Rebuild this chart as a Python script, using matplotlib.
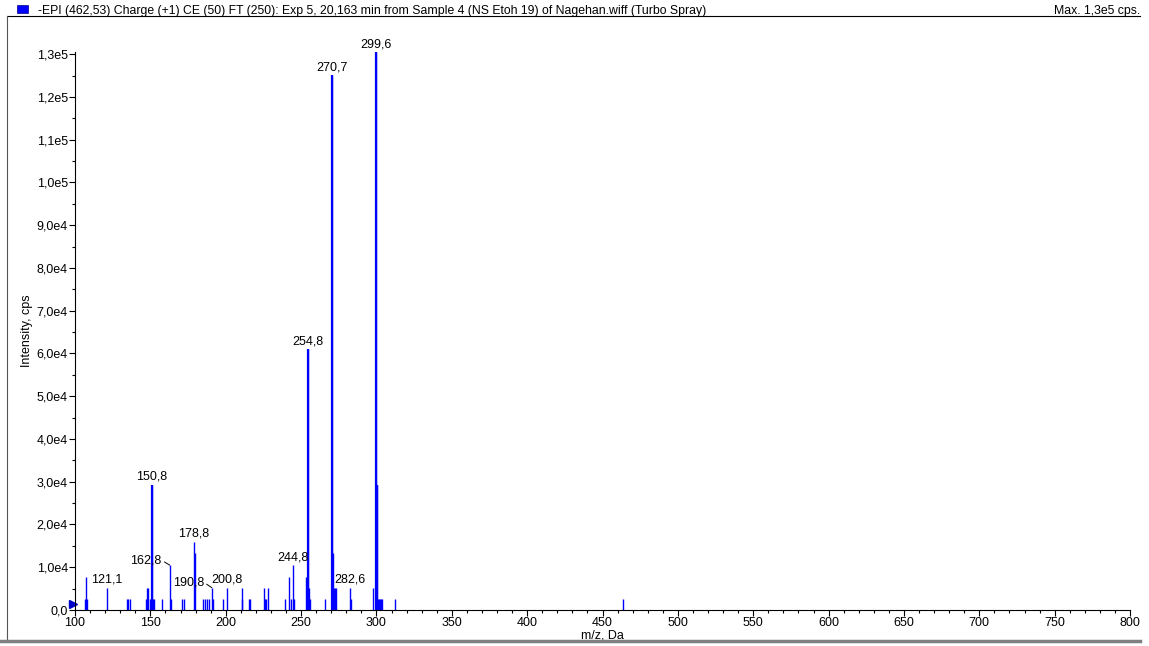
import matplotlib
matplotlib.use("Agg")
import matplotlib.pyplot as plt
import matplotlib.transforms as mtransforms
from matplotlib.lines import Line2D
from matplotlib.patches import Rectangle
from matplotlib.ticker import MultipleLocator, FuncFormatter

plt.rcParams['font.family'] = ['Liberation Sans', 'DejaVu Sans']

# peak list (m/z, intensity in cps)
mz = [106.6, 107.0, 107.8, 121.1, 134.3, 135.0, 136.3, 146.9, 147.6, 148.3,
      149.5, 150.8, 151.3, 151.8, 152.3, 157.5, 162.8, 163.5, 170.8, 172.5,
      178.8, 179.3, 184.7, 186.0, 187.4, 188.7, 190.8, 191.3, 198.0, 200.8,
      210.6, 211.0, 215.2, 216.1, 225.6, 226.1, 226.7, 228.3, 239.4, 242.3,
      243.0, 244.8, 245.4, 253.3, 254.8, 255.3, 255.9, 265.6, 270.7, 271.2,
      271.9, 272.6, 273.3, 282.6, 283.1, 298.0, 299.6, 300.2, 300.9, 301.5,
      302.2, 302.9, 303.5, 312.1, 463.6]
intensity = [2600, 7800, 2600, 5200, 2600, 2600, 2600, 2600, 5200, 5200,
             2600, 29300, 2600, 2600, 2600, 2600, 10500, 2600, 2600, 2600,
             15900, 13300, 2600, 2600, 2600, 2600, 5200, 2600, 2600, 5200,
             5200, 2600, 2600, 2600, 5200, 2600, 2600, 5200, 2600, 7800,
             2600, 10500, 2600, 7800, 61000, 5200, 2600, 2600, 125100, 13300,
             5200, 5200, 5200, 5200, 2600, 5200, 130400, 29300, 2600, 2600,
             2600, 2600, 2600, 2600, 2600]

# labelled peaks; the two with leader lines are shifted to the left
labels_centered = [121.1, 150.8, 178.8, 200.8, 244.8, 254.8, 270.7, 282.6, 299.6]
labels_leader = [162.8, 190.8]

title = ("-EPI (462,53) Charge (+1) CE (50) FT (250): Exp 5, 20,163 min from "
         "Sample 4 (NS Etoh 19) of Nagehan.wiff (Turbo Spray)")
max_text = "Max. 1,3e5 cps."

FS = 9


def fmt_mz(v):
    return f"{v:.1f}".replace('.', ',')


def fmt_y(v, pos):
    if v == 0:
        return "0,0"
    if v >= 1e5:
        return f"{v/1e5:.1f}e5".replace('.', ',')
    return f"{v/1e4:.1f}e4".replace('.', ',')


W, H = 1149, 646
fig = plt.figure(figsize=(W / 100, H / 100), dpi=100)
ax = fig.add_axes([75 / W, 1 - 610 / H, 1055 / W, (610 - 52) / H])

ax.vlines(mz, 0, intensity, colors='#0000ff', linewidth=1.0)
big = [(m, i) for m, i in zip(mz, intensity) if i > 20000]
ax.vlines([b[0] for b in big], 0, [b[1] for b in big], colors='#0000ff', linewidth=1.6)

ax.set_xlim(100, 800)
ax.set_ylim(0, 1.305e5)

lookup = dict(zip(mz, intensity))
for m in labels_centered:
    ax.annotate(fmt_mz(m), (m, lookup[m]), xytext=(0, 1.5), textcoords='offset points',
                ha='center', va='bottom', fontsize=FS)
for m, dx, dy in zip(labels_leader, [-17, -17], [3.5, 4]):
    ax.annotate(fmt_mz(m), (m, lookup[m]), xytext=(dx, dy),
                textcoords='offset points', ha='center', va='center', fontsize=FS,
                arrowprops=dict(arrowstyle='-', color='black', lw=0.7, shrinkA=0,
                                shrinkB=0, relpos=(1.0, 0.5)))

# small blue triangle at the origin
off = mtransforms.ScaledTranslation(-2.5 / 100, 0, fig.dpi_scale_trans)
ax.plot(100, 1500, marker='>', color='#0000cc', markersize=6, clip_on=False,
        transform=ax.transData + off)

ax.spines['top'].set_visible(False)
ax.spines['right'].set_visible(False)
ax.xaxis.set_major_locator(MultipleLocator(50))
ax.xaxis.set_minor_locator(MultipleLocator(10))
ax.yaxis.set_major_locator(MultipleLocator(1e4))
ax.yaxis.set_minor_locator(MultipleLocator(5e3))
ax.yaxis.set_major_formatter(FuncFormatter(fmt_y))
ax.tick_params(which='major', length=4, width=0.8, labelsize=FS, pad=1)
ax.tick_params(which='minor', length=2.5, width=0.8)
ax.set_xlabel("m/z, Da", fontsize=FS, labelpad=0.5)
ax.set_ylabel("Intensity, cps", fontsize=FS, labelpad=3)

# frame and header
fig.add_artist(Line2D([7 / W, 1140 / W], [1 - 16 / H, 1 - 16 / H], color='black', lw=0.8))
fig.add_artist(Line2D([7 / W, 7 / W], [1 - 16 / H, 1 - 640 / H], color='#555555', lw=0.8))
fig.add_artist(Line2D([0, 1140 / W], [1 - 641 / H, 1 - 641 / H], color='#808080', lw=2.5))
fig.add_artist(Rectangle((17 / W, 1 - 13 / H), 11 / W, 8 / H, facecolor='#0000ff',
                         edgecolor='#000080', lw=0.5))
fig.text(38 / W, 1 - 11 / H, title, fontsize=8.8, va='center', ha='left')
fig.text(1140 / W, 1 - 11 / H, max_text, fontsize=8.8, va='center', ha='right')

fig.savefig("out.png", dpi=100)
